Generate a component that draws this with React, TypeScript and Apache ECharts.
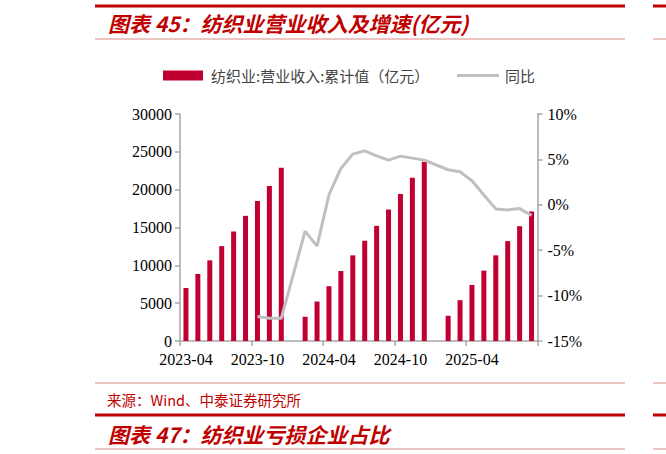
import React, { useEffect, useRef } from "react";
import * as echarts from "echarts";

const categories = [
  "2023-04", "2023-05", "2023-06", "2023-07", "2023-08", "2023-09", "2023-10", "2023-11", "2023-12",
  "2024-01", "2024-02", "2024-03", "2024-04", "2024-05", "2024-06", "2024-07", "2024-08", "2024-09",
  "2024-10", "2024-11", "2024-12", "2025-01", "2025-02", "2025-03", "2025-04", "2025-05", "2025-06",
  "2025-07", "2025-08", "2025-09",
];

const revenue = [
  7010, 8860, 10660, 12540, 14470, 16540, 18510, 20480, 22890,
  null, 3200, 5220, 7240, 9250, 11320, 13250, 15220, 17370,
  19430, 21580, 23680, null, 3330, 5390, 7410, 9300, 11320,
  13200, 15170, 17100,
];

const yoy = [
  null, null, null, null, null, null, -12.3, -12.5, -12.5,
  null, -2.9, -4.55, 1.1, 4.0, 5.58, 5.94, 5.39, 4.92,
  5.36, 5.14, 4.92, null, 3.86, 3.64, 2.65, 1.08, -0.45,
  -0.56, -0.42, -1.18,
];

const barName = "纺织业:营业收入:累计值（亿元）";
const lineName = "同比";
const titleText = "图表 45：纺织业营业收入及增速(亿元)";
const sourceText = "来源：Wind、中泰证券研究所";
const nextTitleText = "图表 47：纺织业亏损企业占比";

export default function App() {
  const ref = useRef<HTMLDivElement>(null);
  useEffect(() => {
    document.body.style.margin = "0";
    const chart = echarts.init(ref.current!, null, { renderer: "svg" });
    const red = "#C00000";
    const lightRed = "#D98A85";
    const serif = "Liberation Serif";
    const cjk = "Noto Sans CJK SC";
    const hline = (x1: number, x2: number, y: number, stroke: string, w: number) => ({
      type: "line",
      shape: { x1, y1: y, x2, y2: y },
      style: { stroke, lineWidth: w },
      silent: true,
    });
    chart.setOption({
      animation: false,
      grid: { left: 180, right: 128.5, top: 114, bottom: 113 },
      legend: [
        {
          left: 158,
          top: 63,
          itemWidth: 40,
          itemHeight: 10,
          data: [{ name: barName, icon: "rect" }],
          textStyle: { fontFamily: cjk, fontSize: 15, color: "#444", padding: [0, 0, 0, 3] },
        },
        {
          left: 452,
          top: 63,
          itemWidth: 42,
          itemHeight: 3,
          data: [{ name: lineName, icon: "rect", itemStyle: { color: "#C0C0C0" } }],
          textStyle: { fontFamily: cjk, fontSize: 15, color: "#444", padding: [0, 0, 0, 1] },
        },
      ],
      xAxis: {
        type: "category",
        data: categories,
        boundaryGap: true,
        axisLine: { lineStyle: { color: "#A6A6A6", width: 1.5 } },
        axisTick: { show: true, interval: 5, length: 5, lineStyle: { color: "#A6A6A6", width: 1.5 } },
        axisLabel: { interval: 5, margin: 10, color: "#000", fontFamily: serif, fontSize: 16 },
      },
      yAxis: [
        {
          type: "value",
          min: 0,
          max: 30000,
          interval: 5000,
          axisLine: { show: true, lineStyle: { color: "#A6A6A6", width: 1.5 } },
          axisTick: { show: true, length: 5, lineStyle: { color: "#A6A6A6", width: 1.5 } },
          axisLabel: {
            margin: 8,
            color: "#000",
            fontFamily: serif,
            fontSize: 16,
            formatter: (v: number) => String(v),
          },
          splitLine: { show: false },
        },
        {
          type: "value",
          min: -15,
          max: 10,
          interval: 5,
          position: "right",
          axisLine: { show: true, lineStyle: { color: "#A6A6A6", width: 1.5 } },
          axisTick: { show: true, length: 5, lineStyle: { color: "#A6A6A6", width: 1.5 } },
          axisLabel: { margin: 10, color: "#000", fontFamily: serif, fontSize: 16, formatter: "{value}%" },
          splitLine: { show: false },
        },
      ],
      series: [
        {
          name: barName,
          type: "bar",
          data: revenue,
          barWidth: 5,
          itemStyle: { color: "#C00030" },
          yAxisIndex: 0,
        },
        {
          name: lineName,
          type: "line",
          data: yoy,
          yAxisIndex: 1,
          symbol: "none",
          connectNulls: true,
          lineStyle: { color: "#C0C0C0", width: 3 },
          itemStyle: { color: "#C0C0C0" },
        },
      ],
      graphic: [
        hline(95, 625, 6, red, 3),
        hline(653, 666, 6, red, 3),
        hline(95, 625, 39, lightRed, 1),
        hline(653, 666, 39, lightRed, 1),
        {
          type: "text",
          x: 108,
          y: 23,
          style: {
            text: titleText,
            fill: red,
            fontFamily: cjk,
            fontSize: 21,
            fontWeight: "bold",
            fontStyle: "italic",
            verticalAlign: "middle",
          },
        },
        hline(95, 625, 383, lightRed, 1),
        hline(653, 666, 383, lightRed, 1),
        {
          type: "text",
          x: 107,
          y: 399,
          style: {
            text: sourceText,
            fill: red,
            fontFamily: cjk,
            fontSize: 14.5,
            verticalAlign: "middle",
          },
        },
        hline(95, 625, 415, red, 3),
        hline(653, 666, 415, red, 3),
        {
          type: "text",
          x: 108,
          y: 434,
          style: {
            text: nextTitleText,
            fill: red,
            fontFamily: cjk,
            fontSize: 21,
            fontWeight: "bold",
            fontStyle: "italic",
            verticalAlign: "middle",
          },
        },
        hline(95, 625, 449, "#E8B0B0", 1.5),
        hline(653, 666, 449, "#E8B0B0", 1.5),
      ],
    });
    return () => chart.dispose();
  }, []);
  return <div ref={ref} style={{ width: 666, height: 454 }} />;
}
